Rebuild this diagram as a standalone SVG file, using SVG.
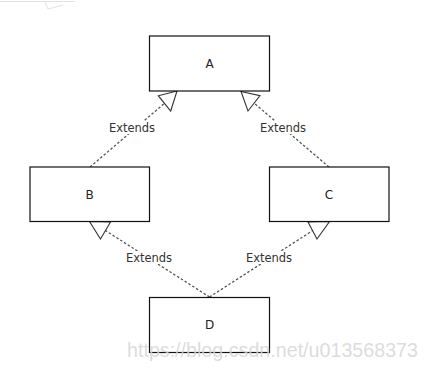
<svg xmlns="http://www.w3.org/2000/svg" width="426" height="374" viewBox="0 0 426 374">
  <defs>
    <style>
      .box { fill: #ffffff; stroke: #111111; stroke-width: 1.2; }
      .name { font-family: "DejaVu Sans", sans-serif; font-size: 12px; fill: #222222; text-anchor: middle; }
      .link { fill: none; stroke: #555555; stroke-width: 1.3; stroke-dasharray: 2.5 2; }
      .head { fill: #ffffff; stroke: #333333; stroke-width: 1.1; stroke-linejoin: miter; }
      .lbl-bg { fill: #ffffff; }
      .lbl { font-family: "DejaVu Sans", sans-serif; font-size: 11.5px; fill: #333333; text-anchor: middle; }
      .mark { font-family: "Liberation Sans", Arial, sans-serif; font-size: 20px; fill: #d6d6d6; fill-opacity: 0.85; }
    </style>
  </defs>
  <rect width="426" height="374" fill="#ffffff"/>

  <!-- faint edge fragment at top-left -->
  <g stroke="#e2e2e2" stroke-width="1" fill="none">
    <line x1="0" y1="1.5" x2="75" y2="1.5"/>
    <polyline points="45,2 48,9 63,5"/>
  </g>

  <!-- inheritance connectors -->
  <g id="connectors">
    <line class="link" x1="90" y1="167" x2="164.5" y2="103.3"/>
    <polygon class="head" points="177,91 158.3,95.7 170.7,111"/>

    <line class="link" x1="329" y1="167" x2="254" y2="103"/>
    <polygon class="head" points="241,91.5 260,95.7 248,111"/>

    <line class="link" x1="209.5" y1="297" x2="105.7" y2="230.7"/>
    <polygon class="head" points="89.5,221.5 110.5,222 100.5,239"/>

    <line class="link" x1="209.5" y1="297" x2="312.5" y2="230.7"/>
    <polygon class="head" points="329.5,221.5 308,222 317,239"/>

    <g id="labels">
      <rect class="lbl-bg" x="108" y="121" width="48" height="13"/>
      <text class="lbl" x="132" y="131.5">Extends</text>
      <rect class="lbl-bg" x="259" y="121" width="48" height="13"/>
      <text class="lbl" x="283" y="131.5">Extends</text>
      <rect class="lbl-bg" x="125" y="251" width="48" height="13"/>
      <text class="lbl" x="149" y="261.5">Extends</text>
      <rect class="lbl-bg" x="245" y="251" width="48" height="13"/>
      <text class="lbl" x="269" y="261.5">Extends</text>
    </g>
  </g>

  <g id="node-A">
    <rect class="box" x="149.5" y="36" width="120" height="55"/>
    <text class="name" x="209.5" y="67.5">A</text>
  </g>
  <g id="node-B">
    <rect class="box" x="30" y="167" width="119.5" height="54.5"/>
    <text class="name" x="89.5" y="198.5">B</text>
  </g>
  <g id="node-C">
    <rect class="box" x="269.5" y="167" width="119.5" height="54.5"/>
    <text class="name" x="329" y="198.5">C</text>
  </g>
  <g id="node-D">
    <rect class="box" x="149.5" y="297.5" width="120" height="55"/>
    <text class="name" x="209.5" y="329">D</text>
  </g>

  <!-- site watermark -->
  <text class="mark" x="127" y="357" textLength="291" lengthAdjust="spacingAndGlyphs">https://blog.csdn.net/u013568373</text>
</svg>
